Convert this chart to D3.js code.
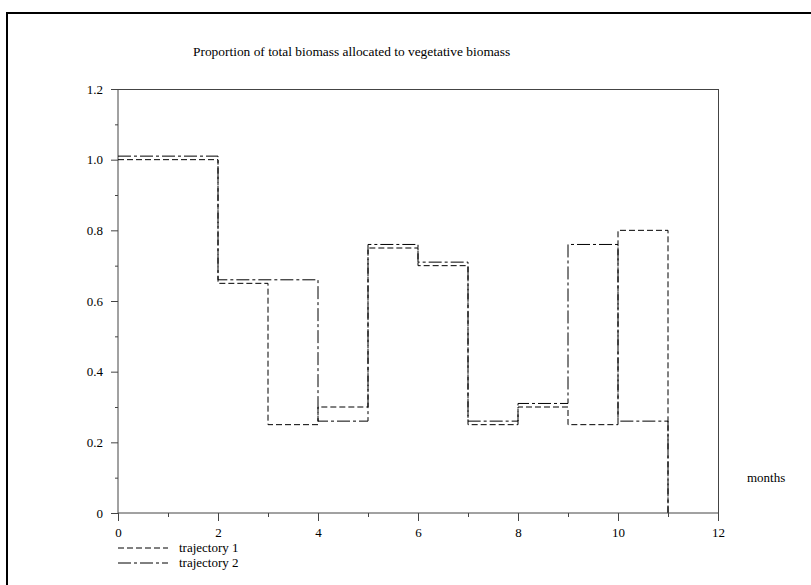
<!DOCTYPE html>
<html>
<head>
<meta charset="utf-8">
<script src="https://cdn.jsdelivr.net/npm/d3@7"></script>
<style>
  body { margin: 0; background: #fff; }
  text { font-family: "Liberation Serif", "DejaVu Serif", serif; fill: #000; }
</style>
</head>
<body>
<svg id="chart"></svg>
<script>
const WIDTH = 811;
const HEIGHT = 585;

const TITLE = "Proportion of total biomass allocated to vegetative biomass";
const X_LABEL = "months";

// value held from each month until the next one (step plot)
const MONTHS = [0, 1, 2, 3, 4, 5, 6, 7, 8, 9, 10, 11];
const TRAJECTORY_1 = [1.00, 1.00, 0.65, 0.25, 0.30, 0.75, 0.70, 0.25, 0.30, 0.25, 0.80, 0];
const TRAJECTORY_2 = [1.01, 1.01, 0.66, 0.66, 0.26, 0.76, 0.71, 0.26, 0.31, 0.76, 0.26, 0];

const X_TICKS = [0, 2, 4, 6, 8, 10, 12];
const X_MINOR = [1, 3, 5, 7, 9, 11];
const Y_TICKS = [0, 0.2, 0.4, 0.6, 0.8, 1.0, 1.2];
const Y_MINOR = [0.1, 0.3, 0.5, 0.7, 0.9, 1.1];

const SERIES = [
    {name: "trajectory 1", values: TRAJECTORY_1, dash: "6,3"},
    {name: "trajectory 2", values: TRAJECTORY_2, dash: "13,3,3,3"}
];

const FONT_SIZE = 13;
const margin = {left: 118, right: 93, top: 89, bottom: 72};

const svg = d3.select("#chart")
    .attr("width", WIDTH)
    .attr("height", HEIGHT);

// outer page frame, clipped by the window on the right and bottom
svg.append("rect")
    .attr("x", 7).attr("y", 13)
    .attr("width", 900).attr("height", 700)
    .attr("fill", "none")
    .attr("stroke", "#000")
    .attr("stroke-width", 2);

const x = d3.scaleLinear().domain([0, 12]).range([margin.left, WIDTH - margin.right]);
const y = d3.scaleLinear().domain([0, 1.2]).range([HEIGHT - margin.bottom, margin.top]);

const axisColor = "#444";

// box: top and right edges
svg.append("path")
    .attr("d", `M${x(0)},${y(1.2)}H${x(12)}V${y(0)}`)
    .attr("fill", "none")
    .attr("stroke", axisColor)
    .attr("shape-rendering", "crispEdges");

// x axis
const xAxis = svg.append("g")
    .attr("transform", `translate(0,${y(0)})`)
    .call(d3.axisBottom(x).tickValues(X_TICKS).tickFormat(d3.format("d")).tickSize(8).tickPadding(7));
svg.append("g")
    .attr("transform", `translate(0,${y(0)})`)
    .call(d3.axisBottom(x).tickValues(X_MINOR).tickFormat("").tickSize(4))
    .call(g => g.select(".domain").remove());

// y axis
const yAxis = svg.append("g")
    .attr("transform", `translate(${x(0)},0)`)
    .call(d3.axisLeft(y).tickValues(Y_TICKS).tickFormat(d => d === 0 ? "0" : d3.format(".1f")(d)).tickSize(7).tickPadding(8));
svg.append("g")
    .attr("transform", `translate(${x(0)},0)`)
    .call(d3.axisLeft(y).tickValues(Y_MINOR).tickFormat("").tickSize(3))
    .call(g => g.select(".domain").remove());

svg.selectAll(".domain").attr("stroke", axisColor);
svg.selectAll(".tick line").attr("stroke", axisColor);
svg.selectAll(".tick text")
    .attr("font-size", FONT_SIZE)
    .attr("font-family", "Liberation Serif, serif")
    .attr("fill", "#000");
// d3 axes draw domain with outer tick stubs; keep it as a plain line
xAxis.select(".domain").attr("d", `M${x(0)},0H${x(12)}`);
yAxis.select(".domain").attr("d", `M0,${y(0)}V${y(1.2)}`);

// step lines
const line = d3.line()
    .x((d, i) => x(MONTHS[i]))
    .y(d => y(d))
    .curve(d3.curveStepAfter);

svg.selectAll(".series")
    .data(SERIES)
    .enter()
    .append("path")
    .attr("class", "series")
    .attr("d", d => line(d.values))
    .attr("fill", "none")
    .attr("stroke", "#000")
    .attr("stroke-width", 1)
    .attr("stroke-dasharray", d => d.dash);

// title
svg.append("text")
    .attr("x", 193)
    .attr("y", 56)
    .attr("font-size", 13.4)
    .text(TITLE);

// x label
svg.append("text")
    .attr("x", 747)
    .attr("y", 482)
    .attr("font-size", FONT_SIZE)
    .text(X_LABEL);

// legend
const legend = svg.selectAll(".legend")
    .data(SERIES)
    .enter()
    .append("g")
    .attr("class", "legend")
    .attr("transform", (d, i) => `translate(118,${548 + i * 15})`);

legend.append("line")
    .attr("x1", 0).attr("x2", 50)
    .attr("stroke", "#000")
    .attr("stroke-dasharray", d => d.dash);

legend.append("text")
    .attr("x", 61)
    .attr("y", 4)
    .attr("font-size", FONT_SIZE)
    .text(d => d.name);
</script>
</body>
</html>
